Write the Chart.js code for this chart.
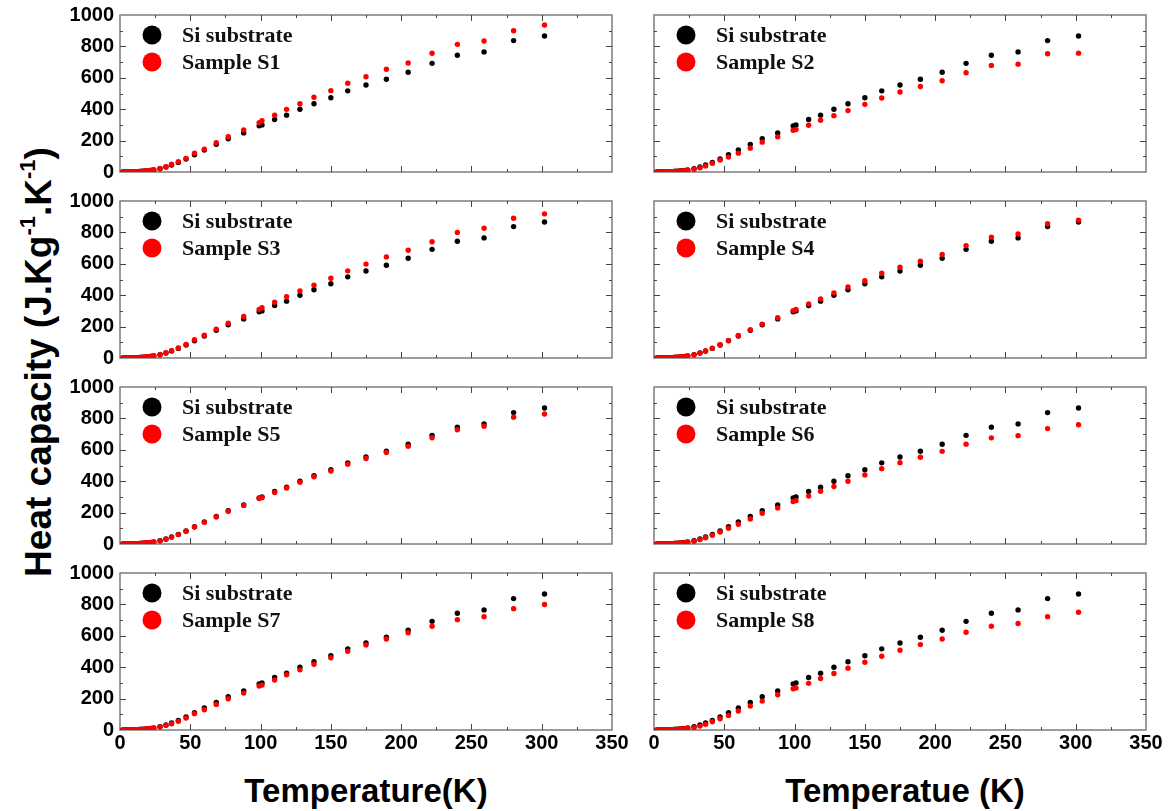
<!DOCTYPE html>
<html><head><meta charset="utf-8">
<script src="https://cdn.jsdelivr.net/npm/chart.js@4.4.1/dist/chart.umd.min.js"></script>
<style>
html,body{margin:0;padding:0;background:#fff;}
#wrap{position:relative;width:1171px;height:811px;overflow:hidden;background:#fff;}
#wrap canvas{position:absolute;}
.ytitle{position:absolute;left:38px;top:362px;transform:translate(-50%,-50%) rotate(-90deg);font:bold 37px "Liberation Sans",Arial,sans-serif;white-space:nowrap;color:#000;line-height:1;}
.ytitle sup{font-size:22px;line-height:0;vertical-align:0.7em;}
.xtitle{position:absolute;top:790px;transform:translate(-50%,-50%);font:bold 33px "Liberation Sans",Arial,sans-serif;white-space:nowrap;color:#000;line-height:1;}
</style></head>
<body>
<div id="wrap">
  <div class="ytitle">Heat capacity (J.Kg<sup>-1</sup>.K<sup>-1</sup>)</div>
  <div class="xtitle" style="left:366px">Temperature(K)</div>
  <div class="xtitle" style="left:905px">Temperatue (K)</div>
</div>
<script>
// Temperatures (K)
const temps = [2,3,4,5,6,7,8,9,10,11,12,13,14,15,16,18,20,22,24,28.5,32.7,36.7,41.5,47,53,60,68.5,77,88,99,101,110,118.5,128,138,150,162,175,189.5,205,222,240,259,280,302];
// Si substrate (same reference in every panel)
const siSubstrate = [0.05,0.1,0.1,0.2,0.3,0.4,0.6,0.8,1.1,1.4,1.9,2.4,3,3.7,4.5,6,8,10,13,21,32,45,61,83,110,140,176,212,249,294,300,334,362,400,435,473,517,554,591,635,692,744,765,837,866];
const sampleS1 = [0.05,0.1,0.2,0.3,0.4,0.5,0.7,0.9,1.2,1.6,2.1,2.7,3.4,4.2,5,7,9,11,14,23,34,49,66,87,119,146,187,225,268,314,327,362,399,435,476,518,565,607,654,694,756,813,834,900,936];
const sampleS2 = [0.05,0.1,0.1,0.2,0.3,0.4,0.5,0.7,0.9,1.2,1.6,2,2.5,3.1,3.8,5,7,9,11,18,27,39,55,76,95,120,152,190,224,266,271,298,330,359,391,431,471,510,545,581,632,679,687,753,757];
const sampleS3 = [0.05,0.1,0.2,0.3,0.4,0.5,0.7,0.9,1.2,1.6,2.1,2.7,3.3,4.1,5,7,9,11,14,22,33,47,64,86,116,145,184,222,264,310,320,355,390,427,464,508,555,598,644,686,740,800,826,890,918];
const sampleS4 = [0.05,0.1,0.1,0.2,0.3,0.4,0.6,0.8,1.1,1.4,1.9,2.4,3,3.7,4.5,6,8,10,13,21,32,45,62,84,112,143,180,216,256,302,310,345,376,415,452,492,540,578,617,660,716,770,790,855,878];
const sampleS5 = [0.05,0.1,0.1,0.2,0.3,0.4,0.6,0.8,1,1.3,1.8,2.3,2.9,3.6,4.4,6,8,10,12,20,31,44,60,82,108,138,172,208,246,290,296,328,357,393,428,465,508,545,583,622,676,728,750,808,828];
const sampleS6 = [0.05,0.1,0.1,0.2,0.3,0.4,0.5,0.7,0.9,1.2,1.6,2,2.5,3.1,3.8,5,7,9,11,18,28,40,56,76,100,126,160,196,230,270,276,305,336,366,400,440,480,518,553,590,636,676,690,735,760];
const sampleS7 = [0.05,0.1,0.1,0.2,0.3,0.4,0.5,0.7,0.9,1.2,1.7,2.2,2.8,3.4,4.1,5.5,7.5,9.5,12,20,30,40,55,76,104,129,163,199,235,280,286,318,352,383,419,460,502,542,580,619,661,703,722,773,799];
const sampleS8 = [0.05,0.1,0.1,0.2,0.3,0.4,0.5,0.7,0.9,1.1,1.5,1.9,2.4,3,3.6,5,6.5,8.5,10.5,15,25,36,53,72,93,121,153,184,225,263,267,297,328,360,394,432,470,508,544,580,623,661,678,722,750];
const sampleNames = ['Sample S1','Sample S2','Sample S3','Sample S4','Sample S5','Sample S6','Sample S7','Sample S8'];
const sampleSeries = [sampleS1,sampleS2,sampleS3,sampleS4,sampleS5,sampleS6,sampleS7,sampleS8];
const xTickLabels = [0,50,100,150,200,250,300,350];
const yTickLabels = [0,200,400,600,800,1000];

const rowTops = [15,201,387,573];
const plotH = 157;
const colLeft = [120,654];
const colRight = [612,1146];

const frameTicks = {
  id:'frameTicks',
  beforeDatasetsDraw(chart){
    const {ctx, chartArea:a, scales:{x,y}} = chart;
    ctx.save();
    ctx.strokeStyle = '#7c7c7c';
    ctx.lineWidth = 1.5;
    ctx.strokeRect(a.left, a.top, a.right-a.left, a.bottom-a.top);
    ctx.strokeStyle = '#444';
    ctx.lineWidth = 1;
    ctx.beginPath();
    for (let v=25; v<350; v+=25){
      const px = Math.round(x.getPixelForValue(v))+0.5;
      const L = (v%50===0)?6:3;
      ctx.moveTo(px,a.bottom); ctx.lineTo(px,a.bottom-L);
      ctx.moveTo(px,a.top); ctx.lineTo(px,a.top+L);
    }
    for (let v=100; v<1000; v+=100){
      const py = Math.round(y.getPixelForValue(v))+0.5;
      const L = (v%200===0)?6:3;
      ctx.moveTo(a.left,py); ctx.lineTo(a.left+L,py);
      ctx.moveTo(a.right,py); ctx.lineTo(a.right-L,py);
    }
    ctx.stroke();
    ctx.restore();
  }
};
const insideLegend = {
  id:'insideLegend',
  afterDraw(chart){
    const {ctx, chartArea:a} = chart;
    ctx.save();
    chart.data.datasets.forEach((ds,i)=>{
      const cy = a.top + 20 + i*27;
      ctx.fillStyle = ds.backgroundColor;
      ctx.beginPath(); ctx.arc(a.left+32, cy, 9.5, 0, Math.PI*2); ctx.fill();
      ctx.fillStyle = '#111';
      ctx.font = 'bold 22px "Liberation Serif","Times New Roman",serif';
      ctx.textBaseline = 'middle';
      ctx.fillText(ds.label, a.left+62, cy+1);
    });
    ctx.restore();
  }
};

const wrap = document.getElementById('wrap');
const tickFont = {family:'"Liberation Sans", Arial, sans-serif', weight:'bold', size:20};
for (let k=0;k<8;k++){
  const row = Math.floor(k/2), col = k%2;
  const last = row===3;
  const padTop = 24;
  const xh = last ? 40 : 24;
  const yw = col===0 ? 62 : 10;
  const cv = document.createElement('canvas');
  const left = colLeft[col]-yw;
  const width = (col===0 ? 640 : 1171) - left;
  const height = padTop + plotH + xh;
  cv.width = width; cv.height = height;
  cv.style.left = left+'px'; cv.style.top = (rowTops[row]-padTop)+'px';
  cv.style.width = width+'px'; cv.style.height = height+'px';
  wrap.appendChild(cv);
  new Chart(cv, {
    type:'scatter',
    data:{datasets:[
      {label:'Si substrate', data:temps.map((t,i)=>({x:t,y:siSubstrate[i]})), backgroundColor:'#000000', borderWidth:0, pointRadius:2.7, order:1},
      {label:sampleNames[k], data:temps.map((t,i)=>({x:t,y:sampleSeries[k][i]})), backgroundColor:'#ff0000', borderWidth:0, pointRadius:2.7, order:0}
    ]},
    options:{
      responsive:false, animation:false, events:[],
      layout:{padding:{top:padTop,left:0,bottom:0,right:(col===0?640:1171)-colRight[col]}},
      plugins:{legend:{display:false}, tooltip:{enabled:false}},
      scales:{
        x:{type:'linear', min:0, max:350,
           afterBuildTicks:s=>{s.ticks = xTickLabels.map(v=>({value:v}));},
           ticks:{display:last, font:tickFont, color:'#000', padding:1, maxRotation:0, autoSkip:false, callback:v=>String(v)},
           grid:{display:false, drawTicks:false}, border:{display:false},
           afterFit:s=>{s.height = xh;}},
        y:{type:'linear', min:0, max:1000,
           afterBuildTicks:s=>{s.ticks = yTickLabels.map(v=>({value:v}));},
           ticks:{display:col===0, font:tickFont, color:'#000', padding:6, autoSkip:false, callback:v=>String(v)},
           grid:{display:false, drawTicks:false}, border:{display:false},
           afterFit:s=>{s.width = yw;}}
      }
    },
    plugins:[frameTicks, insideLegend]
  });
}
</script>
</body></html>
